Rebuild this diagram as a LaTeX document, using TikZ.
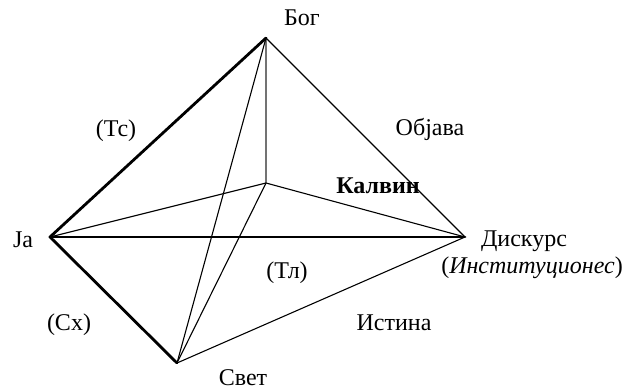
\documentclass[tikz,border=0pt]{standalone}
\usepackage{fontspec}
\setmainfont{Liberation Serif}
\begin{document}
\begin{tikzpicture}[x=1pt,y=-1pt,
  thickedge/.style={line width=2.8pt,line cap=round,line join=round},
  thinedge/.style={line width=1.1pt},
  grayedge/.style={line width=1.1pt,draw=black!55},
  lbl/.style={font=\fontsize{24}{28}\selectfont,inner sep=0pt}]
\useasboundingbox (0,0) rectangle (629,391);
\coordinate (bog) at (266,38);
\coordinate (ja) at (50,237);
\coordinate (disk) at (465,237);
\coordinate (svet) at (177,363);
\coordinate (cen) at (266,183);
% thin edges
\draw[grayedge] (bog) -- (cen);
\draw[thinedge] (bog) -- (disk);
\draw[thinedge] (bog) -- (svet);
\draw[thinedge] (ja) -- (cen);
\draw[thinedge] (cen) -- (disk);
\draw[thinedge] (cen) -- (svet);
\draw[thinedge] (svet) -- (disk);
% thick edges
\draw[thickedge] (bog) -- (ja) -- (svet);
\draw[thickedge] (ja) -- (disk);
% labels
\node[lbl] (lbog) at (302,18) {Бог};
\node[lbl] (lja) at (23,240) {Ja};
\node[lbl] (ltc) at (116,131) {(Тс)};
\node[lbl] (lobj) at (430,129) {Објава};
\node[lbl,font=\fontsize{24}{28}\selectfont\bfseries] (lkal) at (378,186) {Калвин};
\node[lbl] (ldisk) at (524,241) {Дискурс};
\node[lbl] (linst) at (532,268) {(\textit{Институционес})};
\node[lbl] (ltl) at (287,273) {(Тл)};
\node[lbl] (list) at (394,323) {Истина};
\node[lbl] (lsx) at (69,325) {(Сх)};
\node[lbl] (lsvet) at (243,378) {Свет};
\end{tikzpicture}
\end{document}
